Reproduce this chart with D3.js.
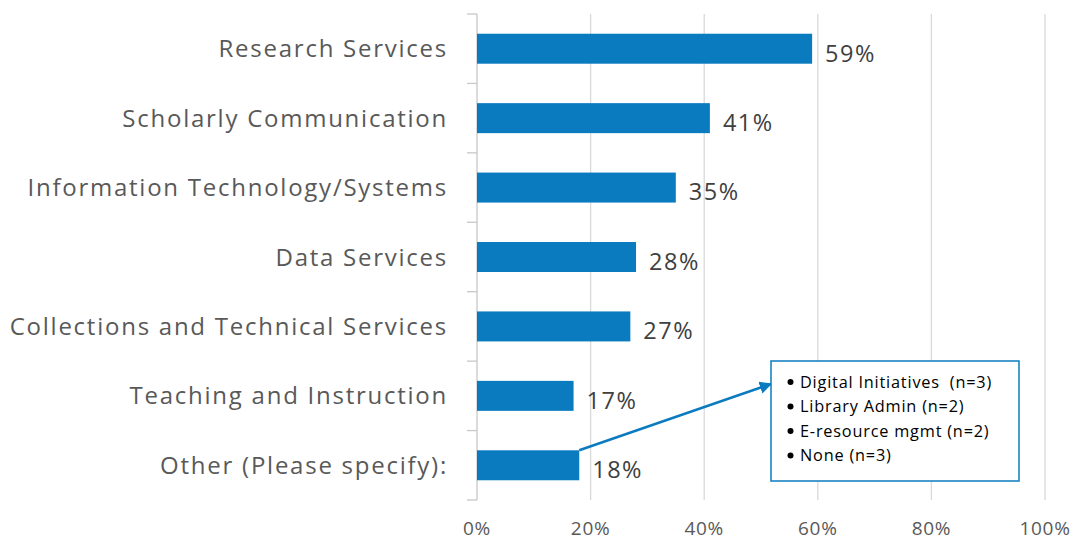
<!DOCTYPE html>
<html><head><meta charset="utf-8">
<script src="https://cdn.jsdelivr.net/npm/d3@7"></script>
<style>body{margin:0;background:#fff}</style>
</head><body>
<svg id="c" width="1073" height="540"></svg>
<script>
const categories = ["Research Services","Scholarly Communication","Information Technology/Systems","Data Services","Collections and Technical Services","Teaching and Instruction","Other (Please specify):"];
const values = [59,41,35,28,27,17,18];
const xTicks = [0,20,40,60,80,100];
const otherNotes = ["Digital Initiatives  (n=3)","Library Admin (n=2)","E-resource mgmt (n=2)","None (n=3)"];

const svg = d3.select("#c");
const font = "'Open Sans', sans-serif";
const m = {l:477, r:1045, t:14, b:500};
const x = d3.scaleLinear().domain([0,100]).range([m.l,m.r]);
const y = d3.scaleBand().domain(categories).range([m.t,m.b]).paddingInner(0.568).paddingOuter(0.284);
const barColor = "#0B7BC0";
const yc = d => y(d)+y.bandwidth()/2;

// gridlines
svg.append("g").selectAll("line").data(xTicks.slice(1)).join("line")
  .attr("x1",d=>x(d)).attr("x2",d=>x(d)).attr("y1",m.t).attr("y2",m.b)
  .attr("stroke","#d9d9d9").attr("stroke-width",1.3);

// y axis line + ticks at band boundaries
const step = y.step();
const bounds = d3.range(categories.length+1).map(i=>m.t+i*step);
svg.append("line").attr("x1",m.l).attr("x2",m.l).attr("y1",m.t).attr("y2",m.b).attr("stroke","#c8c8c8").attr("stroke-width",1.3);
svg.append("g").selectAll("line").data(bounds).join("line")
  .attr("x1",m.l-10).attr("x2",m.l).attr("y1",d=>d).attr("y2",d=>d)
  .attr("stroke","#c8c8c8").attr("stroke-width",1.3);

// bars
svg.append("g").selectAll("rect").data(values).join("rect")
  .attr("x",x(0)).attr("y",(d,i)=>y(categories[i])).attr("width",d=>x(d)-x(0)).attr("height",y.bandwidth())
  .attr("fill",barColor);

// value labels
svg.append("g").selectAll("text").data(values).join("text")
  .attr("x",d=>x(d)+13).attr("y",(d,i)=>yc(categories[i])+12.9)
  .attr("font-family",font).attr("font-size",23.5).attr("letter-spacing",1.5).attr("fill","#404040")
  .text(d=>d+"%");

// category labels
svg.append("g").selectAll("text").data(categories).join("text")
  .attr("x",m.l-29).attr("y",d=>yc(d)+8.6).attr("text-anchor","end")
  .attr("font-family",font).attr("font-size",24).attr("letter-spacing",1.75).attr("fill","#595959").text(d=>d);

// x tick labels
svg.append("g").selectAll("text").data(xTicks).join("text")
  .attr("x",d=>x(d)).attr("y",534.5).attr("text-anchor","middle")
  .attr("font-family",font).attr("font-size",19).attr("letter-spacing",0.7).attr("fill","#595959").text(d=>d+"%");

// annotation box
const box = {x:771, y:361, w:248, h:120};
svg.append("defs").append("marker").attr("id","ah").attr("viewBox","0 0 10 10").attr("refX",9).attr("refY",5)
  .attr("markerWidth",5).attr("markerHeight",5).attr("orient","auto")
  .append("path").attr("d","M0,0L10,5L0,10z").attr("fill",barColor);
const oi = categories.length-1;
svg.append("line").attr("x1",x(values[oi])).attr("y1",y(categories[oi])).attr("x2",box.x).attr("y2",384)
  .attr("stroke",barColor).attr("stroke-width",2.5).attr("marker-end","url(#ah)");
svg.append("rect").attr("x",box.x).attr("y",box.y).attr("width",box.w).attr("height",box.h)
  .attr("fill","#fff").attr("stroke",barColor).attr("stroke-width",1.5);
const ng = svg.append("g");
otherNotes.forEach((t,i)=>{
  const yy = box.y+21+i*24.5;
  ng.append("circle").attr("cx",box.x+19.5).attr("cy",yy).attr("r",3).attr("fill","#000");
  ng.append("text").attr("x",box.x+29).attr("y",yy+5.8).style("white-space","pre")
    .attr("font-family",font).attr("font-size",16.3).attr("letter-spacing",0.8).attr("fill","#000").text(t);
});
</script>
</body></html>
